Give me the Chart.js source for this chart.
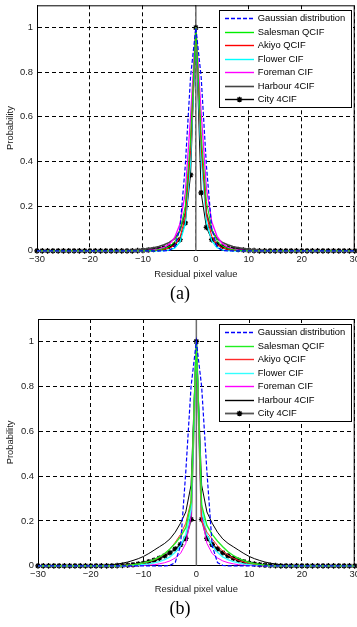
<!DOCTYPE html>
<html>
<head>
<meta charset="utf-8">
<script src="https://cdn.jsdelivr.net/npm/chart.js@4.4.0/dist/chart.umd.min.js"></script>
<style>
html, body { margin: 0; padding: 0; background: #fff; overflow: hidden; }
#wrapA { position: absolute; left: 0; top: 0; width: 357px; height: 307px; overflow: hidden; }
#wrapB { position: absolute; left: 0; top: 307px; width: 357px; height: 320px; overflow: hidden; }
</style>
</head>
<body>
<div id="wrapA"><canvas id="chartA" width="360" height="307"></canvas></div>
<div id="wrapB"><canvas id="chartB" width="360" height="320"></canvas></div>
<script>
// residual pixel values -30 .. 30
var xValues = [-30,-29,-28,-27,-26,-25,-24,-23,-22,-21,-20,-19,-18,-17,-16,-15,-14,-13,-12,-11,
  -10,-9,-8,-7,-6,-5,-4,-3,-2,-1,0,1,2,3,4,5,6,7,8,9,10,
  11,12,13,14,15,16,17,18,19,20,21,22,23,24,25,26,27,28,29,30];

var xTicks = [-30, -20, -10, 0, 10, 20, 30];
var yTicks = [0, 0.2, 0.4, 0.6, 0.8, 1];

var seriesNames = ['Gaussian distribution', 'Salesman QCIF', 'Akiyo QCIF', 'Flower CIF',
  'Foreman CIF', 'Harbour 4CIF', 'City 4CIF'];

// vertical line at zero
var zeroLineX = [0, 0];
var zeroLineY = [0, 1.1];

// ---- panel (a) ----
var gaussA = [0,0,0,0,0, 0,0,0,0,0, 0,0,0,0,0, 0,0,0,0,0, 0,0,0,0,0,
  0.002,0.018,0.1,0.38,0.78, 1, 0.78,0.38,0.1,0.018,0.002,
  0,0,0,0,0, 0,0,0,0,0, 0,0,0,0,0, 0,0,0,0,0, 0,0,0,0,0];
var salesmanA = [0,0,0,0,0, 0,0,0,0,0, 0,0,0,0,0, 0,0,0,0,0, 0,
  0.001,0.002,0.005,0.01,0.02,0.04,0.09,0.2,0.5, 1,
  0.52,0.22,0.1,0.045,0.022,0.011,0.005,0.002,0.001,
  0, 0,0,0,0,0, 0,0,0,0,0, 0,0,0,0,0, 0,0,0,0,0];
var akiyoA = [0,0,0,0,0, 0,0,0,0,0, 0,0,0,0,0, 0,0,0,0,0, 0,0,
  0.001,0.003,0.006,0.012,0.025,0.06,0.15,0.45, 1,
  0.47,0.16,0.065,0.028,0.013,0.006,0.003,0.001,
  0,0, 0,0,0,0,0, 0,0,0,0,0, 0,0,0,0,0, 0,0,0,0,0];
var flowerA = [0,0,0,0,0, 0,0,0,0,0, 0,0,0,0,0, 0,0,0,0,0, 0,0,0,0,
  0.001,0.004,0.012,0.04,0.12,0.4, 1,
  0.42,0.13,0.045,0.014,0.004,0.001,
  0,0,0,0, 0,0,0,0,0, 0,0,0,0,0, 0,0,0,0,0, 0,0,0,0,0];
var foremanA = [0,0,0,0,0, 0,0,0,0,0, 0,0,0,0,0, 0,0,0,0,0,
  0.001,0.002,0.004,0.008,0.015,0.03,0.06,0.12,0.26,0.6, 1,
  0.62,0.28,0.13,0.065,0.032,0.016,0.008,0.004,0.002,0.001,
  0,0,0,0,0, 0,0,0,0,0, 0,0,0,0,0, 0,0,0,0,0];
var harbourA = [0,0,0,0,0, 0,0,0,0,0, 0,0,0,0,0, 0,
  0.001,0.002,0.003,0.005,0.007,0.01,0.014,0.019,0.027,0.038,0.055,0.09,0.17,0.45, 1,
  0.45,0.17,0.09,0.055,0.038,0.027,0.019,0.014,0.01,0.007,0.005,0.003,0.002,0.001,
  0, 0,0,0,0,0, 0,0,0,0,0, 0,0,0,0,0];
var cityA = [0,0,0,0,0, 0,0,0,0,0, 0,0,0,0,0, 0,0,0,0,
  0.001,0.002,0.004,0.006,0.009,0.013,0.02,0.028,0.05,0.125,0.34, 1,
  0.26,0.105,0.05,0.03,0.02,0.013,0.009,0.006,0.004,0.002,0.001,
  0,0,0,0, 0,0,0,0,0, 0,0,0,0,0, 0,0,0,0,0];

// ---- panel (b) ----
var gaussB = [0,0,0,0,0, 0,0,0,0,0, 0,0,0,0,0, 0,0,0,0,0, 0,0,0,0,0,
  0.002,0.015,0.09,0.42,0.8, 1, 0.8,0.42,0.09,0.015,0.002,
  0,0,0,0,0, 0,0,0,0,0, 0,0,0,0,0, 0,0,0,0,0, 0,0,0,0,0];
var salesmanB = [0,0,0,0,0, 0,0,0,0,0, 0,0,0,0,0, 0,
  0.001,0.003,0.005,0.008,0.013,0.02,0.028,0.04,0.055,0.075,0.1,0.13,0.17,0.28, 1,
  0.27,0.18,0.14,0.11,0.085,0.063,0.046,0.033,0.023,0.015,0.01,0.006,0.003,0.001,
  0, 0,0,0,0,0, 0,0,0,0,0, 0,0,0,0,0];
var akiyoB = [0,0,0,0,0, 0,0,0,0,0, 0,0,0,0,0,
  0.001,0.002,0.003,0.005,0.008,0.012,0.018,0.026,0.037,0.053,0.075,0.105,0.14,0.19,0.29, 1,
  0.2,0.15,0.12,0.09,0.066,0.048,0.034,0.024,0.017,0.011,0.007,0.004,0.002,0.001,
  0, 0,0,0,0,0, 0,0,0,0,0, 0,0,0,0,0];
var flowerB = [0,0,0,0,0, 0,0,0,0,0, 0,0,0,0,0, 0,0,
  0.001,0.002,0.004,0.006,0.009,0.013,0.019,0.028,0.04,0.06,0.09,0.14,0.25, 1,
  0.25,0.14,0.09,0.06,0.04,0.028,0.019,0.013,0.009,0.006,0.004,0.002,0.001,
  0,0, 0,0,0,0,0, 0,0,0,0,0, 0,0,0,0,0];
var foremanB = [0,0,0,0,0, 0,0,0,0,0, 0,0,0,0,0, 0,0,0,0,
  0.001,0.002,0.003,0.005,0.009,0.014,0.022,0.035,0.055,0.1,0.22, 1,
  0.22,0.1,0.055,0.035,0.022,0.014,0.009,0.005,0.003,0.002,0.001,
  0,0,0,0, 0,0,0,0,0, 0,0,0,0,0, 0,0,0,0,0];
var harbourB = [0,0,0,0,0, 0,0,0,0,0, 0,
  0.001,0.002,0.003,0.005,0.008,0.012,0.017,0.024,0.032,0.042,0.055,0.07,0.085,0.1,0.12,0.15,0.19,0.24,0.36, 1,
  0.36,0.24,0.19,0.15,0.12,0.1,0.085,0.07,0.055,0.042,0.032,0.024,0.017,0.012,0.008,0.005,0.003,0.002,0.001,
  0, 0,0,0,0,0, 0,0,0,0,0];
var cityB = [0,0,0,0,0, 0,0,0,0,0, 0,0,0,0,0,
  0.001,0.002,0.003,0.005,0.008,0.012,0.018,0.025,0.034,0.045,0.058,0.075,0.095,0.122,0.207, 1,
  0.207,0.122,0.095,0.075,0.058,0.045,0.034,0.025,0.018,0.012,0.008,0.005,0.003,0.002,0.001,
  0,0,0,0,0, 0,0,0,0,0, 0,0,0,0,0];

var panelA = [gaussA, salesmanA, akiyoA, flowerA, foremanA, harbourA, cityA];
var panelB = [gaussB, salesmanB, akiyoB, flowerB, foremanB, harbourB, cityB];

var colorsA = ['#0000ff', '#00ee00', '#ff0000', '#00ffff', '#ff00ff', '#444444', '#000000'];
var colorsB = ['#0000ff', '#22ee22', '#ff2a2a', '#33ffff', '#ff00ff', '#000000', '#555555'];
var widthsA = [1.2, 1, 1, 1.3, 1.3, 1.6, 1];
var widthsB = [1.2, 1.4, 1, 1.4, 1, 1, 1.8];

var FONT = '"Liberation Sans", Arial, sans-serif';

function makeDatasets(panel, colors, widths) {
  var sets = panel.map(function(vals, i) {
    if (vals.length !== xValues.length) console.log('bad length', seriesNames[i], vals.length);
    return {
      label: seriesNames[i],
      data: xValues.map(function(x, j) { return {x: x, y: vals[j]}; }),
      borderColor: colors[i],
      borderWidth: widths[i],
      borderDash: i === 0 ? [4, 2] : [],
      pointRadius: i === 6 ? 2.8 : 0,
      pointStyle: 'star',
      pointBorderColor: '#000',
      pointBackgroundColor: '#000',
      pointBorderWidth: 1.3,
      tension: 0,
      fill: false,
      clip: 6
    };
  });
  sets.push({
    label: '',
    inLegend: false,
    data: zeroLineX.map(function(x, j) { return {x: x, y: zeroLineY[j]}; }),
    borderColor: '#6e6e6e',
    borderWidth: 1.5,
    pointRadius: 0
  });
  return sets;
}

// box legend inside the plot + top/right frame
var boxLegend = {
  id: 'boxLegend',
  afterDatasetsDraw: function(chart) {
    var ctx = chart.ctx, a = chart.chartArea;
    ctx.save();
    ctx.strokeStyle = '#000';
    ctx.lineWidth = 1;
    ctx.beginPath();
    ctx.moveTo(a.left, a.top + 0.5);
    ctx.lineTo(a.right - 0.5, a.top + 0.5);
    ctx.lineTo(a.right - 0.5, a.bottom);
    ctx.stroke();

    var w = 132, h = 97;
    var left = Math.round(a.right - 4 - w), top = Math.round(a.top + 5);
    ctx.fillStyle = '#fff';
    ctx.fillRect(left, top, w, h);
    ctx.strokeRect(left + 0.5, top + 0.5, w, h);
    ctx.font = '9.4px ' + FONT;
    ctx.textBaseline = 'middle';
    var row = 0;
    chart.data.datasets.forEach(function(ds) {
      if (ds.inLegend === false) return;
      var y = Math.round(top + 8 + row * 13.5) + 0.5;
      ctx.strokeStyle = ds.borderColor;
      ctx.lineWidth = Math.max(ds.borderWidth, 1.4);
      ctx.setLineDash(ds.borderDash || []);
      ctx.beginPath();
      ctx.moveTo(left + 6, y);
      ctx.lineTo(left + 35, y);
      ctx.stroke();
      ctx.setLineDash([]);
      if (ds.pointRadius > 0) {
        ctx.fillStyle = '#000';
        ctx.strokeStyle = '#000';
        ctx.lineWidth = ds.pointBorderWidth;
        Chart.helpers.drawPoint(ctx, {pointStyle: ds.pointStyle, radius: ds.pointRadius, borderWidth: ds.pointBorderWidth}, left + 20.5, y);
      }
      ctx.fillStyle = '#000';
      ctx.fillText(ds.label, left + 38.7, y);
      row++;
    });
    ctx.restore();
  }
};

function minusLabel(v) {
  return v < 0 ? '\u2212' + Math.abs(v) : String(v);
}

function makeChart(id, caption, panel, colors, widths, padTop, padBottom, yWidth) {
  return new Chart(document.getElementById(id), {
    type: 'line',
    data: { datasets: makeDatasets(panel, colors, widths) },
    plugins: [boxLegend],
    options: {
      responsive: false,
      animation: false,
      layout: { padding: { top: padTop, bottom: padBottom, left: 0, right: 0 } },
      plugins: {
        legend: { display: false },
        tooltip: { enabled: false },
        title: {
          display: true,
          text: caption,
          position: 'bottom',
          color: '#000',
          font: { family: '"Liberation Serif", "Times New Roman", serif', size: 18, weight: 'normal' },
          padding: { top: 3, bottom: 0 }
        }
      },
      scales: {
        x: {
          type: 'linear',
          min: -30,
          max: 30,
          afterBuildTicks: function(s) { s.ticks = xTicks.map(function(v) { return {value: v}; }); },
          afterFit: function(s) { s.paddingRight = 5; },
          grid: { color: '#000', lineWidth: 1, drawTicks: false },
          border: { display: true, color: '#000', width: 1, dash: [4, 3] },
          ticks: {
            color: '#1a1a1a', padding: 3, maxRotation: 0, autoSkip: false,
            font: { family: FONT, size: 9.4 },
            callback: minusLabel
          },
          title: {
            display: true, text: 'Residual pixel value', color: '#1a1a1a',
            font: { family: FONT, size: 9.4 }, padding: { top: 1, bottom: 0 }
          }
        },
        y: {
          min: 0,
          max: 1.1,
          afterBuildTicks: function(s) { s.ticks = yTicks.map(function(v) { return {value: v}; }); },
          afterFit: function(s) { s.width = yWidth; s.paddingTop = 0; s.paddingBottom = 0; },
          grid: { color: '#000', lineWidth: 1, drawTicks: false },
          border: { display: true, color: '#000', width: 1, dash: [4, 3] },
          ticks: {
            color: '#1a1a1a', padding: 4,
            font: { family: FONT, size: 9.4 },
            callback: function(v) { return String(Math.round(v * 10) / 10); }
          },
          title: {
            display: true, text: 'Probability', color: '#1a1a1a',
            font: { family: FONT, size: 9.4 }, padding: { top: 5, bottom: 0 }
          }
        }
      }
    }
  });
}

makeChart('chartA', '(a)', panelA, colorsA, widthsA, 4, 2, 37);
makeChart('chartB', '(b)', panelB, colorsB, widthsB, 12, 7, 38);
</script>
</body>
</html>
